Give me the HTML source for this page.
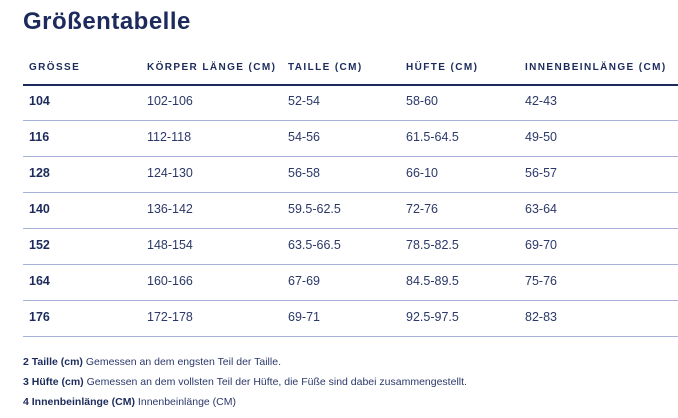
<!DOCTYPE html>
<html><head><meta charset="utf-8"><style>
body{margin:0;width:678px;height:418px;background:#fff;font-family:"Liberation Sans",sans-serif;color:#1f2d5e;position:relative;overflow:hidden}
.t{position:absolute;left:23px;top:8px;font-size:24px;font-weight:bold;color:#1c2b5c;letter-spacing:0.5px}
.h{position:absolute;top:62px;font-size:10px;font-weight:bold;letter-spacing:1.4px;color:#1c2b5c;white-space:nowrap}
.l{position:absolute;left:23px;right:0;height:1px;background:#a8b2d8}
.c{position:absolute;font-size:12.5px;color:#2b3869;white-space:nowrap}
.b{font-weight:bold;color:#1c2b5c}
.f{position:absolute;left:23px;font-size:10.5px;color:#2b3869;white-space:nowrap}
.f b{color:#1c2b5c}
</style></head><body>
<div class="t">Größentabelle</div>
<div class="h" style="left:29px">GRÖSSE</div>
<div class="h" style="left:147px">KÖRPER LÄNGE (CM)</div>
<div class="h" style="left:288px">TAILLE (CM)</div>
<div class="h" style="left:406px">HÜFTE (CM)</div>
<div class="h" style="left:525px">INNENBEINLÄNGE (CM)</div>
<div class="l" style="top:84px;height:2px;background:#1c2b5c"></div>
<div id="rows"></div>
<script>
var d=[["104","102-106","52-54","58-60","42-43"],["116","112-118","54-56","61.5-64.5","49-50"],["128","124-130","56-58","66-10","56-57"],["140","136-142","59.5-62.5","72-76","63-64"],["152","148-154","63.5-66.5","78.5-82.5","69-70"],["164","160-166","67-69","84.5-89.5","75-76"],["176","172-178","69-71","92.5-97.5","82-83"]];
var x=[29,147,288,406,525],h="";
d.forEach(function(r,i){var y=94+36*i;r.forEach(function(v,j){h+='<div class="c'+(j==0?' b':'')+'" style="left:'+x[j]+'px;top:'+y+'px">'+v+'</div>'});h+='<div class="l" style="top:'+(120+36*i)+'px"></div>'});
document.getElementById('rows').innerHTML=h;
</script>
<div class="f" style="top:356px"><b>2 Taille (cm)</b> Gemessen an dem engsten Teil der Taille.</div>
<div class="f" style="top:376px"><b>3 Hüfte (cm)</b> Gemessen an dem vollsten Teil der Hüfte, die Füße sind dabei zusammengestellt.</div>
<div class="f" style="top:396px"><b>4 Innenbeinlänge (CM)</b> Innenbeinlänge (CM)</div>
</body></html>
